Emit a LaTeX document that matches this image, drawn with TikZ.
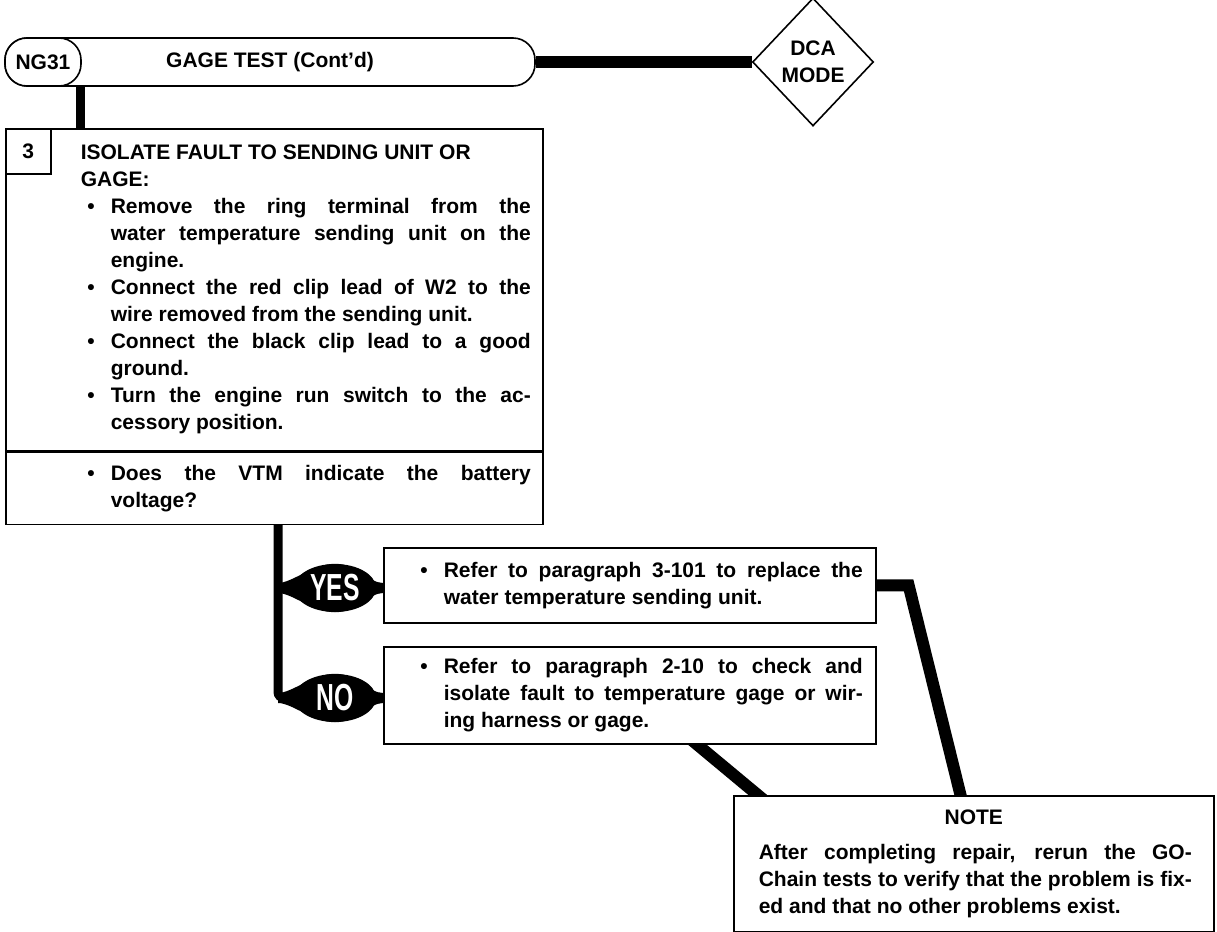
\documentclass[tikz,border=0pt]{standalone}
\usepackage{fontspec}
\setmainfont{Liberation Sans}
\usepackage{graphicx}
\usetikzlibrary{shapes.geometric, positioning, backgrounds}
\hbadness=10000 \vbadness=10000
\newcommand{\body}{\fontsize{21}{27}\selectfont\bfseries}
\newcommand{\bul}{\par\noindent\llap{\textbullet\hspace{16pt}}}
\newcommand{\tall}[1]{\scalebox{0.95}[1.45]{#1}}
% #1 Breite, #2 links, #3 rechts, #4 Text
\newcommand{\cardtext}[4]{\parbox{#1}{\leftskip=#2\relax\rightskip=#3\relax
    \spaceskip=0.28em plus 1.5em minus 0.05em\relax #4}}

\begin{document}
\begin{tikzpicture}[x=1pt, y=-1pt, font=\body,
    card/.style={draw, fill=white, line width=1.6pt, anchor=north west, inner sep=0pt},
    pill/.style={draw, fill=white, line width=1.6pt, rounded corners=22pt, minimum height=48pt, inner sep=0pt},
    knob/.style={ellipse, fill=black, text=white, inner sep=0pt, minimum width=82pt, minimum height=48pt,
                 font=\fontsize{26}{26}\selectfont\bfseries},
    trunk/.style={line width=12pt},
    fork/.style={line width=9pt}]
    \useasboundingbox (0,0) rectangle (1217,931);

    % 1. Tieu de va che do
    \node[pill, minimum width=530pt] (title) at (270,62) {GAGE TEST (Cont’d)};
    \node[pill, minimum width=76pt, anchor=west] (tag) at (title.west) {NG31};
    \node[diamond, draw, fill=white, line width=1.6pt, minimum width=121pt, minimum height=128pt,
          inner sep=0pt, align=center] (mode) at (813,62) {DCA\\MODE};

    % 2. Buoc 3
    \node[card, minimum height=322pt] (step3) at (5,128) {\cardtext{537pt}{105pt}{12pt}{%
        {\leftskip=75pt \noindent ISOLATE FAULT TO SENDING UNIT OR\\GAGE:\par}
        \bul Remove the ring terminal from the\linebreak water temperature sending unit on the\linebreak engine.
        \bul Connect the red clip lead of W2 to the\linebreak wire removed from the sending unit.
        \bul Connect the black clip lead to a good\linebreak ground.
        \bul Turn the engine run switch to the ac-\linebreak cessory position.}};
    \node[card, minimum width=45pt, minimum height=45pt] (num) at (step3.north west) {3};
    \node[card, minimum height=72pt] (ask) at (step3.south west) {\cardtext{537pt}{105pt}{12pt}{%
        \bul Does the VTM indicate the battery\linebreak voltage?}};

    % 3. Nhanh YES / NO
    \node[knob] (yes) at (335,588) {\tall{YES}};
    \node[knob] (no) at (335,698) {\tall{NO}};
    \node[card, minimum height=75pt] (fixyes) at (383,547) {\cardtext{492pt}{60pt}{13pt}{%
        \bul Refer to paragraph 3-101 to replace the\linebreak water temperature sending unit.}};
    \node[card, minimum height=97pt] (fixno) at (383,646) {\cardtext{492pt}{60pt}{13pt}{%
        \bul Refer to paragraph 2-10 to check and\linebreak isolate fault to temperature gage or wir-\linebreak ing harness or gage.}};

    % 4. Ghi chu
    \node[card, minimum height=136pt] (note) at (733,795) {\cardtext{480pt}{25pt}{22pt}{%
        {\leftskip=0pt plus 1fil \rightskip=0pt plus 1fil \parfillskip=0pt \noindent NOTE\par}\vspace{8pt}
        \noindent After completing repair, rerun the GO-\linebreak Chain tests to verify that the problem is fix-\linebreak ed and that no other problems exist.}};

    % 5. Duong noi
    \coordinate (drop) at ([xshift=-1pt]tag.south east);
    \coordinate (forktop) at ([xshift=273pt]ask.south west);
    \coordinate (yesknee) at ([xshift=32pt]fixyes.east);
    \coordinate (yesland) at ([xshift=229pt, yshift=-6pt]note.north west);
    \coordinate (nofoot) at ([xshift=307pt, yshift=6pt]fixno.south west);
    \coordinate (noland) at ([xshift=32pt, yshift=-6pt]note.north west);
    \begin{scope}[on background layer]
        \draw[trunk] (title.east) -- (mode.west);
        \draw[fork] (drop) -- (drop |- step3.north);
        \draw[fork, rounded corners=6pt] (forktop) |- (no.west);
        \foreach \k/\dest in {yes/fixyes, no/fixno} {
            \fill ([yshift=5pt]forktop |- \k) .. controls +(14,0) and +(-22,0) .. (\k.north)
                .. controls +(22,0) and +(-14,0) .. ([yshift=5pt]\k -| \dest.west)
                -- ([yshift=-5pt]\k -| \dest.west) .. controls +(-14,0) and +(22,0) .. (\k.south)
                .. controls +(-22,0) and +(14,0) .. ([yshift=-5pt]forktop |- \k) -- cycle;
        }
        \draw[trunk] (fixyes.east) -- (yesknee) -- (yesland);
        \draw[trunk] (nofoot) -- (noland);
    \end{scope}
\end{tikzpicture}
\end{document}
